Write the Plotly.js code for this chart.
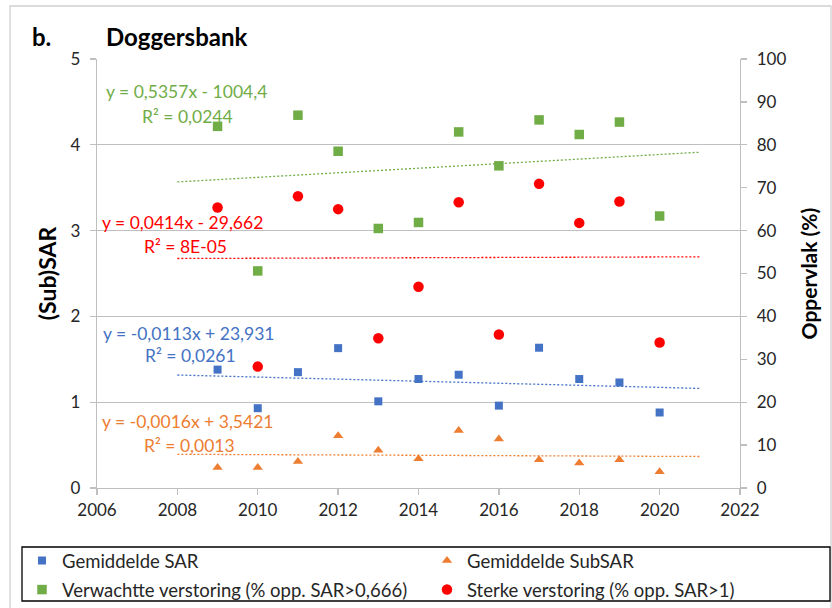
<!DOCTYPE html>
<html>
<head>
<meta charset="utf-8">
<script src="https://cdn.plot.ly/plotly-3.0.1.min.js"></script>
<style>
  html, body { margin: 0; padding: 0; background: #fff; }
  #chart { width: 832px; height: 608px; }
</style>
</head>
<body>
<div id="chart"></div>
<script>
// ---- data ----
const years = [2009, 2010, 2011, 2012, 2013, 2014, 2015, 2016, 2017, 2018, 2019, 2020];
const gemSAR = [1.38, 0.93, 1.35, 1.63, 1.01, 1.27, 1.32, 0.96, 1.635, 1.27, 1.23, 0.88];
const gemSubSAR = [0.24, 0.24, 0.31, 0.61, 0.44, 0.34, 0.67, 0.57, 0.33, 0.29, 0.33, 0.19];
const verwacht = [84.3, 50.6, 86.9, 78.5, 60.5, 61.9, 83.0, 75.1, 85.8, 82.4, 85.3, 63.4];
const sterk = [65.4, 28.3, 68.0, 65.0, 34.9, 46.9, 66.6, 35.8, 70.9, 61.8, 66.8, 33.9];
const trendSpan = [2008, 2021];
const seriesNames = ['Gemiddelde SAR', 'Gemiddelde SubSAR',
  'Verwachtte verstoring (% opp. SAR>0,666)', 'Sterke verstoring (% opp. SAR>1)'];
const eqSAR = ['y = -0,0113x + 23,931', 'R² = 0,0261'];
const eqSubSAR = ['y = -0,0016x + 3,5421', 'R² = 0,0013'];
const eqVerwacht = ['y = 0,5357x - 1004,4', 'R² = 0,0244'];
const eqSterk = ['y = 0,0414x - 29,662', 'R² = 8E-05'];

// ---- styling ----
const C = { blue: '#4472C4', orange: '#ED7D31', green: '#70AD47', red: '#FF0000' };
const FONT = 'Lato, "Open Sans", sans-serif';

function fit(xs, ys) {
  const n = xs.length;
  const mx = xs.reduce((a, b) => a + b, 0) / n;
  const my = ys.reduce((a, b) => a + b, 0) / n;
  let sxy = 0, sxx = 0;
  for (let i = 0; i < n; i++) { sxy += (xs[i] - mx) * (ys[i] - my); sxx += (xs[i] - mx) ** 2; }
  const b = sxy / sxx, a = my - b * mx;
  return trendSpan.map(x => a + b * x);
}

function trend(ys, color, yaxis) {
  return { x: trendSpan, y: fit(years, ys), mode: 'lines', yaxis: yaxis, showlegend: false,
    hoverinfo: 'skip', line: { color: color, width: 1.3, dash: '2px,2px' } };
}

const traces = [
  trend(gemSAR, C.blue, 'y'),
  trend(gemSubSAR, C.orange, 'y'),
  trend(verwacht, C.green, 'y2'),
  trend(sterk, C.red, 'y2'),
  { x: years, y: gemSAR, name: seriesNames[0], mode: 'markers', yaxis: 'y', legend: 'legend',
    legendgroup: 'g1', marker: { symbol: 'square', size: 8, color: C.blue } },
  { x: years, y: verwacht, name: seriesNames[2], mode: 'markers', yaxis: 'y2', legend: 'legend',
    legendgroup: 'g2', marker: { symbol: 'square', size: 9.5, color: C.green } },
  { x: years, y: gemSubSAR, name: seriesNames[1], mode: 'markers', yaxis: 'y', legend: 'legend2',
    legendgroup: 'g3', marker: { symbol: 'triangle-up', size: 9, color: C.orange } },
  { x: years, y: sterk, name: seriesNames[3], mode: 'markers', yaxis: 'y2', legend: 'legend2',
    legendgroup: 'g4', marker: { symbol: 'circle', size: 10.5, color: C.red } }
];

// plot area in pixels: x 97..740, y 59..488
const W = 832, H = 608;
const L = 97, R = 740, T = 59, B = 488;
const px = v => (v - L) / (R - L);
const py = v => (B - v) / (B - T);

function eqAnn(text, color, x, y) {
  return { text: text, xref: 'paper', yref: 'paper', x: px(x), y: py(y), xanchor: 'left',
    yanchor: 'middle', showarrow: false, font: { family: FONT, size: 17.5, color: color } };
}

const annotations = [
  { text: '<b>b.</b>', xref: 'paper', yref: 'paper', x: px(30), y: py(37), xanchor: 'left',
    yanchor: 'middle', showarrow: false, font: { family: FONT, size: 24, color: '#000' } },
  { text: '<b>Doggersbank</b>', xref: 'paper', yref: 'paper', x: px(104), y: py(37), xanchor: 'left',
    yanchor: 'middle', showarrow: false, font: { family: FONT, size: 24, color: '#000' } },
  eqAnn(eqVerwacht[0], C.green, 104, 92),
  eqAnn(eqVerwacht[1], C.green, 140, 116),
  eqAnn(eqSterk[0], C.red, 100, 222),
  eqAnn(eqSterk[1], C.red, 142, 246),
  eqAnn(eqSAR[0], C.blue, 101, 333),
  eqAnn(eqSAR[1], C.blue, 143, 355),
  eqAnn(eqSubSAR[0], C.orange, 100, 421),
  eqAnn(eqSubSAR[1], C.orange, 142, 445)
];

const axisCommon = {
  showline: true, linecolor: '#bfbfbf', linewidth: 1.3, ticks: 'outside', ticklen: 6,
  tickcolor: '#bfbfbf', tickwidth: 1.3, zeroline: false, automargin: false,
  tickfont: { family: FONT, size: 17, color: '#262626' }
};

const legendCommon = {
  orientation: 'v', xanchor: 'left', yanchor: 'top',
  borderwidth: 0, bgcolor: 'rgba(0,0,0,0)', itemwidth: 30, tracegroupgap: 2,
  traceorder: 'grouped', font: { family: FONT, size: 18.5, color: '#262626' }
};

const layout = {
  width: W, height: H,
  margin: { l: L, r: W - R, t: T, b: H - B, pad: 0, autoexpand: false },
  paper_bgcolor: '#fff', plot_bgcolor: '#fff',
  font: { family: FONT },
  showlegend: true,
  xaxis: Object.assign({}, axisCommon, {
    range: [2006, 2022], dtick: 2, tick0: 2006, showgrid: false
  }),
  yaxis: Object.assign({}, axisCommon, {
    range: [0, 5], dtick: 1, showgrid: true, gridcolor: '#bfbfbf', gridwidth: 1.3,
    ticklabelstandoff: 6,
    title: { text: '<b>(Sub)SAR</b>', font: { family: FONT, size: 23, color: '#000' }, standoff: 7 }
  }),
  yaxis2: Object.assign({}, axisCommon, {
    range: [0, 100], dtick: 10, overlaying: 'y', side: 'right', showgrid: false,
    ticklabelstandoff: 6,
    title: { text: '<b>Oppervlak (%)</b>', font: { family: FONT, size: 21, color: '#000' }, standoff: 17 }
  }),
  legend: Object.assign({}, legendCommon, { x: px(22), y: py(542) }),
  legend2: Object.assign({}, legendCommon, { x: px(427), y: py(542) }),
  shapes: [
    { type: 'rect', xref: 'paper', yref: 'paper', x0: px(10), x1: px(831), y0: py(620), y1: py(6),
      line: { color: '#d0d0d0', width: 1.3 }, fillcolor: 'rgba(0,0,0,0)', layer: 'below' },
    { type: 'rect', xref: 'paper', yref: 'paper', x0: px(22), x1: px(830), y0: py(601), y1: py(547),
      line: { color: '#000', width: 1.3 }, fillcolor: 'rgba(0,0,0,0)', layer: 'above' }
  ],
  annotations: annotations
};

Plotly.newPlot('chart', traces, layout, { displayModeBar: false, staticPlot: true });
</script>
</body>
</html>
